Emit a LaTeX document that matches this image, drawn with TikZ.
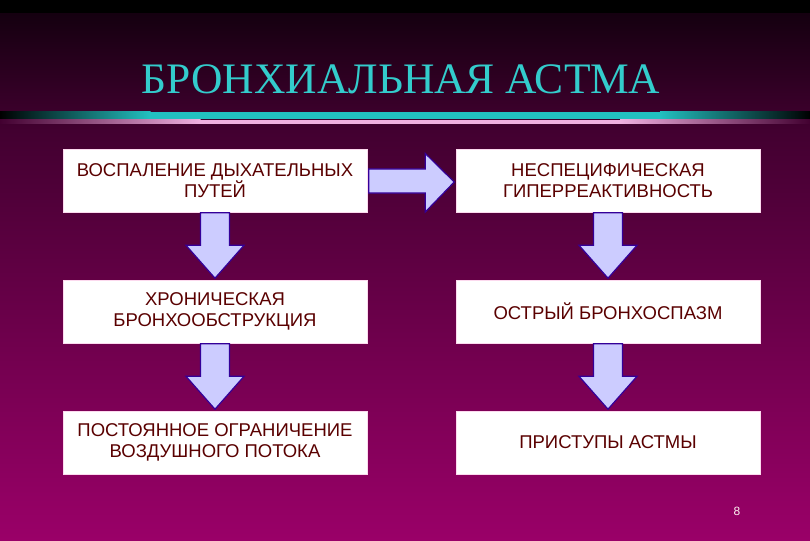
\documentclass[tikz,border=0pt]{standalone}
\usepackage{fontspec}
\setmainfont{Liberation Sans}
\newfontfamily\titlefont{Liberation Serif}
\usetikzlibrary{calc}
\definecolor{bgtop}{HTML}{150010}
\definecolor{bgmid}{HTML}{420030}
\definecolor{bgbot}{HTML}{9A0068}
\definecolor{titlecyan}{HTML}{33CCCC}
\definecolor{boxtext}{HTML}{5A0000}
\definecolor{arrowfill}{HTML}{CCCCFF}
\definecolor{arrowline}{HTML}{330099}
\definecolor{bandcyan}{HTML}{22C0C0}
\definecolor{bandpink}{HTML}{F0B0E0}
\tikzset{
  stepbox/.style={fill=white, draw=white!85!magenta, line width=0.6pt,
    minimum width=304pt, minimum height=63pt, inner sep=0pt,
    align=center, text=boxtext, font=\fontsize{18.5}{21.5}\selectfont},
  blockarrow/.style={fill=arrowfill, draw=arrowline, line width=1.2pt, line join=miter}
}
\begin{document}
\begin{tikzpicture}[x=1pt,y=-1pt]
\useasboundingbox (0,0) rectangle (810,540);
% background
\fill[black] (0,0) rectangle (810,14);
\fill[top color=bgtop, bottom color=bgmid] (0,14) rectangle (810,130.5);
\fill[top color=bgmid, bottom color=bgbot] (0,130) rectangle (810,540);
% bands
\fill[left color=black, right color=bandcyan] (0,112) rectangle (150.5,119);
\fill[bandcyan] (150,112) rectangle (660.5,119);
\fill[left color=bandcyan, right color=black] (660,112) rectangle (810,119);
\fill[left color=bgmid, right color=bandpink] (0,120) rectangle (200.5,124);
\fill[bandpink] (200,120) rectangle (620.5,124);
\fill[left color=bandpink, right color=bgmid] (620,120) rectangle (810,124);
% title
\node[font=\titlefont\fontsize{43.5}{44}\selectfont, text=titlecyan, anchor=base] (title) at (401,94) {БРОНХИАЛЬНАЯ АСТМА};
% boxes
\node[stepbox] (a1) at (215,180.5) {ВОСПАЛЕНИЕ ДЫХАТЕЛЬНЫХ\\ПУТЕЙ};
\node[stepbox] (a2) at (215,311.5) {ХРОНИЧЕСКАЯ\\БРОНХООБСТРУКЦИЯ};
\node[stepbox] (a3) at (215,442.5) {ПОСТОЯННОЕ ОГРАНИЧЕНИЕ\\ВОЗДУШНОГО ПОТОКА};
\node[stepbox] (b1) at (608,180.5) {НЕСПЕЦИФИЧЕСКАЯ\\ГИПЕРРЕАКТИВНОСТЬ};
\node[stepbox] (b2) at (608,311.5) {ОСТРЫЙ БРОНХОСПАЗМ};
\node[stepbox] (b3) at (608,442.5) {ПРИСТУПЫ АСТМЫ};
% down arrows
\foreach \u/\v in {a1/a2,a2/a3,b1/b2,b2/b3}{
  \draw[blockarrow] ($(\u.south)+(-14.5,0.5)$) -- ($(\u.south)+(14.5,0.5)$)
    -- ($(\u.south)+(14.5,33)$) -- ($(\u.south)+(29,33)$)
    -- ($(\v.north)+(0,-1.5)$)
    -- ($(\u.south)+(-29,33)$) -- ($(\u.south)+(-14.5,33)$) -- cycle;
}
% right arrow
\draw[blockarrow] ($(a1.east)+(1.5,-11.5)$) -- ($(a1.east)+(58,-11.5)$)
  -- ($(a1.east)+(58,-27)$) -- ($(b1.west)+(-1.5,1.5)$)
  -- ($(a1.east)+(58,31.5)$) -- ($(a1.east)+(58,12.5)$)
  -- ($(a1.east)+(1.5,12.5)$) -- cycle;
% page number
\node[text=white!80!pink, font=\fontsize{12}{12}\selectfont] (pagenum) at (737,511) {8};
\end{tikzpicture}
\end{document}
